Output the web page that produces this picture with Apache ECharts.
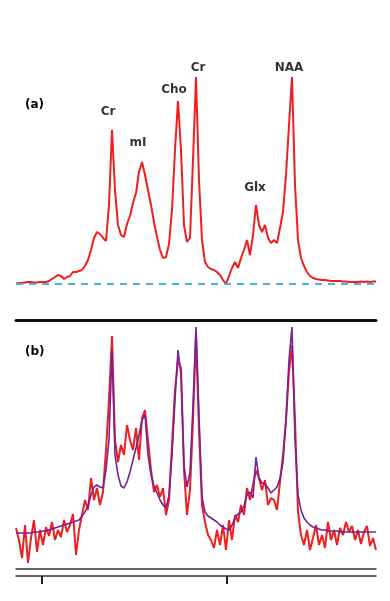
<!DOCTYPE html>
<html lang="en">
<head>
    <meta charset="UTF-8">
    <script src="https://cdn.jsdelivr.net/npm/echarts@6/dist/echarts.min.js"></script>
    <style>
        *{
            margin: 0;
            padding: 0;
        }
        body {
            background: #fff;
        }
        #chart {
            width: 390px;
            height: 601px;
        }
    </style>
</head>
<body>
<div id="chart"></div>
<script>
    // one sample every STEP units along the shift axis (0..360)
    var STEP = 3;

    // (a) measured spectrum
    var spectrumA = [
        0.5,1,1,1.5,2,2,1.5,1.5,2,2,
        2,3,5,7,9,8,5,7,8,12,
        12,13,14,18,24,34,46,52,50,46,
        43,79,154,94,59,49,47,60,68,81,
        91,112,122,109,94,79,62,47,34,26,
        27,40,74,134,183,134,59,42,46,124,
        207,104,44,22,17,15,14,12,9,4,
        0,8,16,22,16,26,34,44,29,49,
        79,59,52,59,46,41,44,41,56,72,
        109,159,207,99,44,26,18,12,8,6,
        5,4.5,4,4,3.5,3,3,3,3,2.5,
        2.5,2,2,2,2,2.5,2,2.5,2,2.5,2.5
    ];

    // (b) noisy spectrum
    var spectrumB = [
        41,29,11,44,6,31,49,17,39,24,
        42,33,47,29,39,32,49,37,44,55,
        14,39,54,69,59,91,69,81,64,77,
        119,169,233,129,107,124,114,144,129,119,
        141,109,151,159,129,99,77,84,72,81,
        54,69,124,179,209,201,99,54,79,149,
        234,139,64,47,34,29,21,39,24,44,
        19,49,29,54,47,64,54,81,69,84,
        99,91,79,89,64,71,69,59,87,114,
        149,197,224,149,57,34,24,39,19,31,
        44,24,34,21,47,29,39,24,41,34,
        47,37,43,29,39,25,37,43,23,31,19
    ];

    // (b) fitted spectrum
    var fitB = [
        36,36,36,36,36,36,37,37,37,38,
        38,39,40,41,42,43,44,45,46,47,
        48,49,53,57,63,74,82,84,82,81,
        99,129,219,114,94,83,81,87,97,109,
        121,134,149,154,114,94,83,76,69,64,
        61,74,114,169,219,194,104,82,97,164,
        242,154,72,57,53,51,49,47,44,42,
        40,39,44,51,55,57,63,74,77,71,
        112,91,86,85,81,76,79,82,91,107,
        149,209,242,129,74,59,51,47,44,42,
        41,40,39,39,38,38,38,38,37,37,
        37,37,37,37,37,37,37,37,37,37,37
    ];

    // peak names and where they sit (shift, height) in panel (a)
    var peakNames = ['Cr', 'mI', 'Cho', 'Cr', 'Glx', 'NAA'];
    var peakPos = [[92, 172], [122, 141], [158, 194], [182, 216], [239, 96], [273, 216]];
    var panelNames = ['(a)', '(b)'];
    var tickValues = [26, 211];

    function toPairs(arr) {
        return arr.map(function (v, i) { return [i * STEP, v]; });
    }

    var myChart = echarts.init(document.getElementById('chart'));

    var labelData = peakNames.map(function (n, i) {
        return { value: peakPos[i], name: n };
    });

    var option = {
        animation: false,
        backgroundColor: '#fff',
        grid: [
            { left: 16, right: 14, top: 74, height: 210 },
            { left: 16, right: 14, top: 320, height: 249 }
        ],
        xAxis: [
            { gridIndex: 0, type: 'value', min: 0, max: 360, show: false },
            {
                gridIndex: 1, type: 'value', min: 0, max: 360, position: 'top',
                axisLine: { show: true, onZero: false, lineStyle: { color: '#111', width: 3 } },
                axisTick: { show: false }, axisLabel: { show: false }, splitLine: { show: false }
            },
            {
                gridIndex: 1, type: 'value', min: 0, max: 360, position: 'bottom',
                axisLine: { show: true, onZero: false, lineStyle: { color: '#333', width: 1.5 } },
                axisTick: { show: false }, axisLabel: { show: false }, splitLine: { show: false }
            },
            {
                gridIndex: 1, type: 'value', min: 0, max: 360, position: 'bottom', offset: 7,
                axisLine: { show: true, onZero: false, lineStyle: { color: '#333', width: 1.5 } },
                axisTick: { show: true, inside: false, length: 8, customValues: tickValues,
                    lineStyle: { color: '#222', width: 2 } },
                axisLabel: { show: false }, splitLine: { show: false }
            }
        ],
        yAxis: [
            { gridIndex: 0, type: 'value', min: 0, max: 210, show: false },
            { gridIndex: 1, type: 'value', min: 0, max: 249, show: false }
        ],
        series: [
            {
                type: 'line', xAxisIndex: 0, yAxisIndex: 0,
                data: toPairs(spectrumA), showSymbol: false, z: 3,
                lineStyle: { color: '#f01e1e', width: 2 },
                markLine: {
                    silent: true, symbol: ['none', 'none'],
                    label: { show: false },
                    lineStyle: { color: '#45b3da', width: 2, type: [7, 6] },
                    data: [{ yAxis: 0 }]
                }
            },
            {
                type: 'scatter', xAxisIndex: 0, yAxisIndex: 0, clip: false,
                data: labelData, symbolSize: 0, z: 5,
                label: {
                    show: true, position: 'inside', formatter: '{b}',
                    color: '#000', fontSize: 12, fontWeight: 'bold',
                    fontFamily: 'DejaVu Sans'
                }
            },
            {
                type: 'line', xAxisIndex: 1, yAxisIndex: 1,
                data: toPairs(spectrumB), showSymbol: false, z: 3,
                lineStyle: { color: '#f01e1e', width: 2 }
            },
            {
                type: 'line', xAxisIndex: 1, yAxisIndex: 1,
                data: toPairs(fitB), showSymbol: false, z: 4,
                lineStyle: { color: '#72239a', width: 1.6 }
            }
        ],
        graphic: [
            { type: 'text', left: 25, top: 99,
              style: { text: panelNames[0], fill: '#000', font: 'bold 12px "DejaVu Sans"' } },
            { type: 'text', left: 25, top: 346,
              style: { text: panelNames[1], fill: '#000', font: 'bold 12px "DejaVu Sans"' } }
        ]
    };

    myChart.setOption(option);
</script>
</body>
</html>
